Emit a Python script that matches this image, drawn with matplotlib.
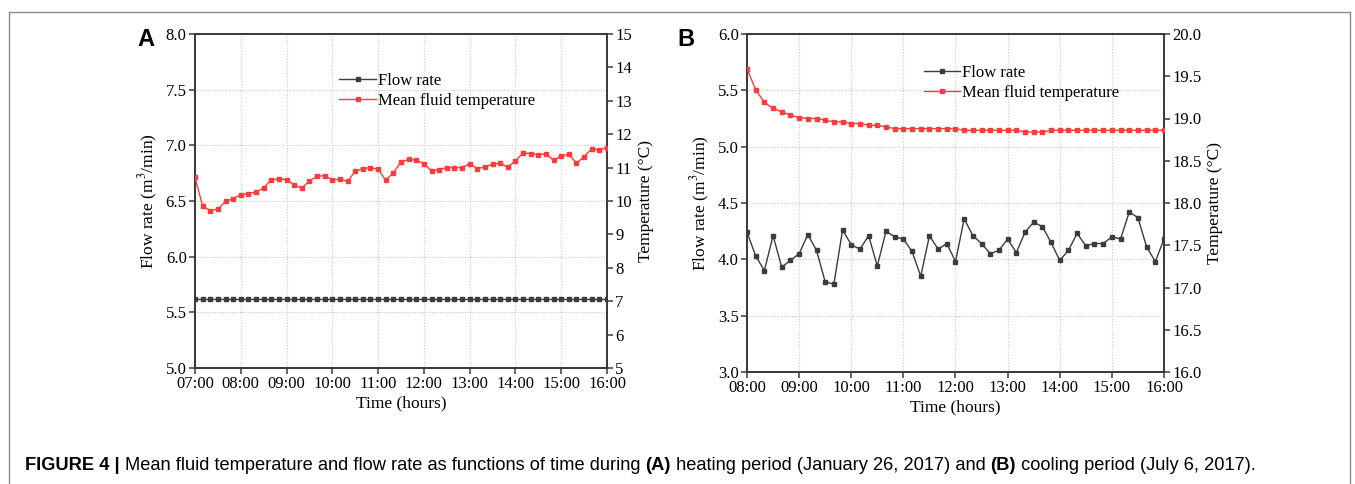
import numpy as np
import matplotlib
matplotlib.use("Agg")
from matplotlib import pyplot as plt
from matplotlib.lines import Line2D

plt.rcParams["font.family"] = ["Liberation Serif", "DejaVu Serif"]
plt.rcParams["mathtext.fontset"] = "stix"

# ---- data (samples every 10 min) ----
time_a = np.linspace(7, 16, 55)
flow_a = [5.62] * 55
temp_a = [10.71, 9.85, 9.71, 9.76, 9.99, 10.07, 10.19, 10.22, 10.27, 10.39,
          10.64, 10.66, 10.64, 10.48, 10.39, 10.60, 10.74, 10.76, 10.63, 10.65,
          10.59, 10.89, 10.97, 11.00, 10.95, 10.62, 10.85, 11.16, 11.25, 11.22,
          11.12, 10.90, 10.94, 11.00, 11.00, 11.00, 11.12, 10.97, 11.02, 11.10,
          11.13, 11.01, 11.20, 11.44, 11.42, 11.39, 11.41, 11.22, 11.35, 11.40,
          11.13, 11.33, 11.56, 11.53, 11.60]

time_b = np.linspace(8, 16, 49)
flow_b = [4.24, 4.03, 3.90, 4.21, 3.93, 3.99, 4.05, 4.22, 4.08, 3.80,
          3.78, 4.26, 4.13, 4.09, 4.21, 3.94, 4.25, 4.20, 4.18, 4.07,
          3.85, 4.21, 4.09, 4.14, 3.98, 4.36, 4.21, 4.14, 4.05, 4.08,
          4.18, 4.06, 4.24, 4.33, 4.29, 4.15, 3.99, 4.08, 4.23, 4.12,
          4.14, 4.14, 4.20, 4.18, 4.42, 4.37, 4.11, 3.98, 4.18]
temp_b = [19.59, 19.34, 19.19, 19.12, 19.08, 19.04, 19.01, 19.00, 19.00, 18.98,
          18.96, 18.96, 18.94, 18.94, 18.92, 18.92, 18.90, 18.88, 18.88, 18.88,
          18.88, 18.88, 18.88, 18.88, 18.88, 18.86, 18.86, 18.86, 18.86, 18.86,
          18.86, 18.86, 18.84, 18.84, 18.84, 18.86, 18.86, 18.86, 18.86, 18.86,
          18.86, 18.86, 18.86, 18.86, 18.86, 18.86, 18.86, 18.86, 18.86]

hour_ticks_a = list(range(7, 17))
hour_ticks_b = list(range(8, 17))

FLOW_C = "#3c3c3c"
TEMP_C = "#ff3b3b"
SPINE_C = "#3a3a3a"

W, H = 1355, 484
fig = plt.figure(figsize=(W / 100, H / 100), dpi=100)


def panel(rect, t, flow, temp, xt, ylim_l, yt_l, ylim_r, yt_r, fmt_r, leg_xy):
    ax = fig.add_axes(rect)
    ax2 = ax.twinx()
    ax.set_xlim(xt[0], xt[-1])
    ax.set_ylim(*ylim_l)
    ax.set_yticks(yt_l)
    ax.set_yticklabels(["%.1f" % v for v in yt_l])
    ax.set_xticks(xt)
    ax.set_xticklabels(["%02d:00" % h for h in xt])
    ax2.set_ylim(*ylim_r)
    ax2.set_yticks(yt_r)
    ax2.set_yticklabels([fmt_r % v for v in yt_r])
    ax.grid(True, linestyle=(0, (1, 1.5)), color="#c8c8c8", linewidth=0.8)
    ax.set_axisbelow(True)

    l1, = ax.plot(t, flow, color=FLOW_C, lw=1.0, marker="s", ms=3.4,
                  label="Flow rate", zorder=3)
    l2, = ax2.plot(t, temp, color=TEMP_C, lw=1.0, marker="s", ms=3.4,
                   label="Mean fluid temperature", zorder=3)

    for a in (ax, ax2):
        for s in a.spines.values():
            s.set_color(SPINE_C)
            s.set_linewidth(1.3)
        a.tick_params(direction="out", length=4, width=1.1, color=SPINE_C,
                      labelsize=12, pad=2)
    ax.set_xlabel("Time (hours)", fontsize=12.5, labelpad=2)
    ax.set_ylabel("Flow rate (m$^{3}$/min)", fontsize=12.5, labelpad=4)
    ax2.set_ylabel("Temperature (\u00b0C)", fontsize=12.5, labelpad=4)
    ax.legend([l1, l2], ["Flow rate", "Mean fluid temperature"],
              loc="center left", bbox_to_anchor=leg_xy, frameon=False,
              fontsize=12, handlelength=2.2, handletextpad=0.1,
              borderpad=0, borderaxespad=0, labelspacing=0.25, numpoints=1)
    return ax


def fr(x0, y0, x1, y1):
    return [x0 / W, 1 - y1 / H, (x1 - x0) / W, (y1 - y0) / H]


panel(fr(195, 34, 607, 368), time_a, flow_a, temp_a, hour_ticks_a,
      (5.0, 8.0), np.arange(5.0, 8.01, 0.5), (5, 15), list(range(5, 16)),
      "%d", (0.35, 0.83))
panel(fr(747, 34, 1164, 372), time_b, flow_b, temp_b, hour_ticks_b,
      (3.0, 6.0), np.arange(3.0, 6.01, 0.5), (16, 20),
      np.arange(16.0, 20.01, 0.5), "%.1f", (0.424, 0.855))

# panel letters
fig.text(146 / W, 1 - 39 / H, "A", fontsize=17, fontweight="bold",
         family=["Liberation Sans", "DejaVu Sans"], ha="center", va="center")
fig.text(686 / W, 1 - 39 / H, "B", fontsize=17, fontweight="bold",
         family=["Liberation Sans", "DejaVu Sans"], ha="center", va="center")

# frame around figure
fc = "#8a8a8a"
fig.add_artist(Line2D([9 / W, 9 / W], [0, 1 - 12 / H], color=fc, lw=1.0))
fig.add_artist(Line2D([9 / W, 1350 / W], [1 - 12 / H, 1 - 12 / H], color=fc, lw=1.0))
fig.add_artist(Line2D([1350 / W, 1350 / W], [0, 1 - 12 / H], color=fc, lw=1.0))

# caption
cap_parts = [
    ("FIGURE 4 | ", "bold"),
    ("Mean fluid temperature and flow rate as functions of time during ", "normal"),
    ("(A)", "bold"),
    (" heating period (January 26, 2017) and ", "normal"),
    ("(B)", "bold"),
    (" cooling period (July 6, 2017).", "normal"),
]
cap_font = ["Liberation Sans", "DejaVu Sans"]
fig.canvas.draw()
renderer = fig.canvas.get_renderer()
x = 25
for txt, wt in cap_parts:
    t = fig.text(x / W, 1 - 466 / H, txt, fontsize=13.15, fontweight=wt,
                 family=cap_font, va="center", ha="left")
    bb = t.get_window_extent(renderer)
    x += bb.width

fig.savefig("out.png", dpi=100)
